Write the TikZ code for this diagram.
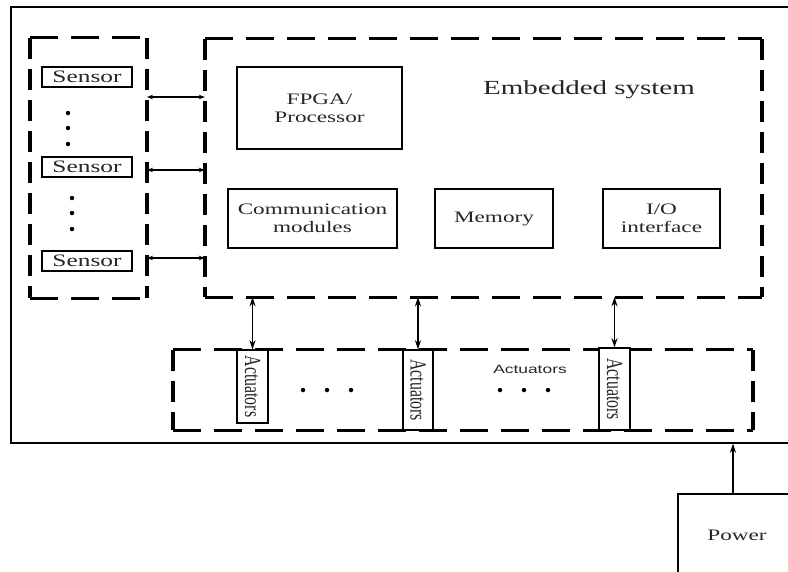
\documentclass[tikz,border=0pt]{standalone}
\usepackage{fontspec}
\setmainfont{Liberation Serif}[FakeStretch=1.45]
\newfontfamily\condfont{Liberation Serif}[FakeStretch=0.69]
\newfontfamily\labsans{Liberation Sans}[FakeStretch=1.45]
\usetikzlibrary{arrows.meta}
\begin{document}
\begin{tikzpicture}[x=1pt,y=-1pt,
  solidbox/.style={draw, line width=1.4pt, inner sep=0pt, align=center,
    font=\fontsize{16}{18}\selectfont, text=black!85},
  sensorbox/.style={solidbox, minimum width=90pt, minimum height=20pt,
    font=\fontsize{17.5}{19}\selectfont},
  actbox/.style={draw, line width=1.4pt, inner sep=0pt, fill=white},
  acttext/.style={rotate=-90, font=\condfont\fontsize{23}{25}\selectfont, text=black!85, inner sep=0pt},
  container/.style={inner sep=0pt},
  hdash/.style={line width=3pt, dash pattern=on 28pt off 13pt},
  vdash/.style={line width=3.5pt, dash pattern=on 21pt off 10pt},
  biarrow/.style={line width=1.5pt, {Stealth[length=6pt,width=4.5pt]}-{Stealth[length=6pt,width=4.5pt]}},
  bigbiarrow/.style={line width=1.7pt, {Stealth[length=9pt,width=6pt]}-{Stealth[length=9pt,width=6pt]}},
  uparrow/.style={line width=1.6pt, -{Stealth[length=9pt,width=6pt]}},
  dotmark/.style={fill=black, circle, inner sep=0pt, minimum size=4.5pt},
  plain/.style={text=black!85, inner sep=0pt}
]
\useasboundingbox (0,0) rectangle (788,571);
\clip (0,0) rectangle (788,571);
\fill[white] (0,0) rectangle (788,571);

% outer frame
\node[container, draw, line width=1.4pt, minimum width=789pt, minimum height=436pt] (outer) at (405.5,225) {};

% sensor container
\node[container, minimum width=117pt, minimum height=260pt] (sbox) at (88.5,168) {};
\draw[hdash] (sbox.north west) -- (sbox.north east);
\draw[hdash] (sbox.south west) -- (sbox.south east);
\draw[vdash] (sbox.north west) -- (sbox.south west);
\draw[vdash] (sbox.north east) -- (sbox.south east);

\node[sensorbox] (s1) at (87,77) {Sensor};
\node[sensorbox] (s2) at (87,167) {Sensor};
\node[sensorbox] (s3) at (87,261) {Sensor};
\node[dotmark] (d1) at (68,113) {};
\node[dotmark] (d2) at (68,128) {};
\node[dotmark] (d3) at (68,144) {};
\node[dotmark] (d4) at (72,198) {};
\node[dotmark] (d5) at (72,213) {};
\node[dotmark] (d6) at (72,229) {};

% embedded system container
\node[container, minimum width=557pt, minimum height=258pt] (es) at (483.5,168) {};
\draw[hdash] (es.north west) -- (es.north east);
\draw[hdash] (es.south west) -- (es.south east);
\draw[vdash] (es.north west) -- (es.south west);
\draw[vdash] (es.north east) -- (es.south east);
\node[plain, font=\fontsize{20}{22}\selectfont] (estitle) at (589,90) {Embedded system};

\node[solidbox, minimum width=165pt, minimum height=82pt] (fpga) at (319.5,108) {FPGA/\\Processor};
\node[solidbox, minimum width=169pt, minimum height=59pt] (comm) at (312.5,218.5) {Communication\\modules};
\node[solidbox, minimum width=118pt, minimum height=59pt] (mem) at (494,218.5) {Memory};
\node[solidbox, minimum width=117pt, minimum height=59pt] (io) at (661.5,218.5) {I/O\\interface};

% sensor links
\coordinate (l1) at (147,97);
\coordinate (l2) at (147,170);
\coordinate (l3) at (147,258);
\draw[biarrow] (l1) -- (l1 -| es.west);
\draw[biarrow] (l2) -- (l2 -| es.west);
\draw[biarrow] (l3) -- (l3 -| es.west);

% actuator container
\node[container, minimum width=580pt, minimum height=80pt] (abox) at (463,390) {};
\draw[hdash] (abox.north west) -- (abox.north east);
\draw[hdash] (abox.south west) -- (abox.south east);
\draw[vdash] (abox.north west) -- (abox.south west);
\draw[vdash] (abox.north east) -- (abox.south east);

\node[actbox, minimum width=31pt, minimum height=73pt] (a1) at (252.5,386.5) {};
\node[actbox, minimum width=30pt, minimum height=80pt] (a2) at (418,390) {};
\node[actbox, minimum width=31pt, minimum height=82pt] (a3) at (614.5,389) {};
\node[acttext] (t1) at (a1.center) {Actuators};
\node[acttext] (t2) at (a2.center) {Actuators};
\node[acttext] (t3) at (a3.center) {Actuators};

\node[plain, font=\labsans\fontsize{12}{14}\selectfont] (alabel) at (530,369) {Actuators};
\node[dotmark] (e1) at (303,390) {};
\node[dotmark] (e2) at (327,390) {};
\node[dotmark] (e3) at (351,390) {};
\node[dotmark] (e4) at (500,390) {};
\node[dotmark] (e5) at (524,390) {};
\node[dotmark] (e6) at (548,390) {};

\draw[bigbiarrow] (a1.north |- es.south) -- (a1.north);
\draw[bigbiarrow] (a2.north |- es.south) -- (a2.north);
\draw[bigbiarrow] (a3.north |- es.south) -- (a3.north);

% power
\node[container, draw, line width=1.4pt, minimum width=122pt, minimum height=90pt] (power) at (739,539) {};
\node[plain, font=\fontsize{16}{18}\selectfont] (ptext) at (737,535) {Power};
\coordinate (pt) at (733,494);
\draw[uparrow] (pt) -- (pt |- outer.south);
\end{tikzpicture}
\end{document}
